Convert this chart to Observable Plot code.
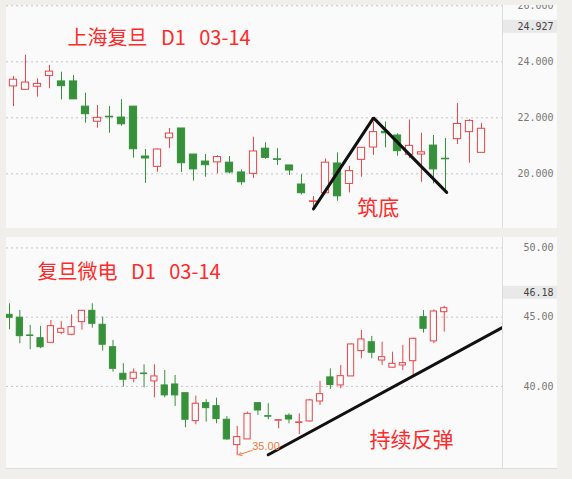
<!DOCTYPE html>
<html><head><meta charset="utf-8">
<script src="https://cdn.jsdelivr.net/npm/d3@7"></script>
<script src="https://cdn.jsdelivr.net/npm/@observablehq/plot@0.6"></script>
<style>
html,body{margin:0;padding:0;background:#f1efeb;width:572px;height:479px;overflow:hidden;}
#top,#bot{position:absolute;left:6px;}
#top{top:5px;} #bot{top:237px;border-bottom:1px solid #dddddd;}
</style></head><body>
<div id="top"></div><div id="bot"></div>
<script>
// ---- 上海复旦 (top panel) ----
const topOpen  = [23.12,23.00,23.11,23.49,23.30,23.30,22.40,21.86,22.04,22.01,22.40,20.62,20.25,21.27,21.62,20.69,20.44,20.41,20.40,20.05,20.00,20.90,20.52,20.30,19.62,19.00,19.31,20.37,19.64,20.50,20.94,21.50,21.37,20.68,20.69,21.01,20.54,21.24,21.49,20.75];
const topHigh  = [23.47,24.23,23.39,23.87,23.63,23.51,22.88,22.44,22.40,22.65,22.40,20.87,20.89,21.62,21.62,20.69,20.69,20.65,20.62,20.14,21.31,21.11,20.90,20.30,19.97,19.19,20.53,20.75,20.27,20.93,21.85,21.85,21.43,21.92,21.45,21.37,21.26,22.51,21.93,21.80];
const topLow   = [22.40,23.00,22.74,23.04,22.64,22.66,21.81,21.63,21.45,21.70,20.56,19.66,20.06,20.91,20.05,19.74,19.88,20.00,20.00,19.59,19.84,20.52,20.30,19.94,19.25,18.81,19.31,19.02,19.32,19.88,20.66,20.93,20.63,20.54,19.70,19.64,19.33,21.05,20.38,20.75];
const topClose = [23.36,23.26,23.21,23.65,23.13,22.66,22.13,22.00,22.02,21.77,20.88,20.55,20.87,21.44,20.38,20.16,20.31,20.60,20.05,19.70,20.80,20.57,20.50,20.12,19.31,19.02,20.40,19.20,20.10,20.93,21.49,21.45,20.81,21.00,20.77,20.16,20.52,21.78,21.89,21.61];
const topTicks = [20, 22, 24, 26];
const topTag = [24.927];
const topPatternX = [25, 30, 36.1];
const topPatternY = [18.75, 22.0, 19.34];
const topNote = [{x: 30.4, y: 18.76, text: "筑底"}];
const topTitle = "上海复旦   D1   03-14";

// ---- 复旦微电 (bottom panel) ----
const botOpen  = [45.17,44.96,43.68,43.48,43.15,43.87,43.73,44.64,45.46,44.45,42.83,40.91,40.55,40.93,40.36,40.07,40.14,39.51,37.49,38.79,38.57,37.59,35.76,36.17,38.79,37.85,37.52,37.88,37.36,37.47,38.91,40.65,40.07,40.72,42.55,43.19,41.87,41.35,41.51,41.82,45.00,43.25,45.36];
const botHigh  = [45.97,45.48,44.40,44.33,44.76,44.69,45.17,45.48,45.97,45.00,43.32,41.64,41.27,41.56,41.56,41.15,40.79,39.51,39.30,39.04,39.15,37.83,37.11,38.14,38.82,38.75,37.59,38.02,38.02,39.06,40.36,41.27,41.51,43.08,44.04,43.61,43.19,42.47,42.96,43.48,45.48,45.53,45.79];
const botLow   = [44.09,43.08,42.65,42.72,43.08,43.73,43.66,44.06,44.21,42.55,41.03,39.95,40.26,39.90,39.18,39.18,38.55,37.01,37.23,37.42,37.30,36.10,35.00,36.17,37.90,37.59,36.94,37.30,36.51,37.42,38.62,39.77,39.83,40.72,41.99,41.99,41.51,41.35,41.15,40.79,43.85,43.08,43.92];
const botClose = [44.96,43.63,43.64,42.83,44.35,44.16,44.28,45.46,44.52,43.01,41.27,40.48,40.99,40.89,40.72,39.35,39.35,37.59,38.75,38.43,37.64,36.17,36.34,38.02,38.26,37.81,37.56,37.61,37.40,38.99,39.44,40.10,40.74,43.03,43.39,42.43,42.11,41.63,41.68,43.44,44.16,45.41,45.65];
const botTicks = [40, 45, 50];
const botTag = [46.18];
const botTrendX = [25, 47.7];
const botTrendY = [35.06, 44.28];
const botNote = [{x: 38.84, y: 36.10, text: "持续反弹"}];
const botLowMark = [{x1: 23.45, y1: 35.38, x2: 22.15, y2: 35.06, text: "35.00"}];
const botTitle = "复旦微电   D1   03-14";

const RED = "#e8454a", GREEN = "#37913b", BG = "#fafafa", TXT = "#ff2a2a";
const CJK = "Noto Sans CJK SC";

function candles(o, h, l, c) {
  return o.map((v, i) => ({i, open: v, high: h[i], low: l[i], close: c[i], up: c[i] >= v}));
}

function panel(cfg) {
  const data = candles(...cfg.ohlc);
  const hw = cfg.halfW;
  const svg = Plot.plot({
    width: 551, height: cfg.height,
    marginLeft: 0, marginRight: 55, marginTop: 0, marginBottom: 0,
    x: {domain: cfg.xDomain, axis: null},
    y: {domain: cfg.yDomain, axis: null},
    color: {type: "identity"},
    style: {background: BG, overflow: "hidden", fontFamily: "DejaVu Sans Mono", fontSize: "10px", color: "#777"},
    marks: [
      Plot.frame({anchor: "right", stroke: "#dcdcdc"}),
      Plot.gridY(cfg.ticks, {stroke: "#c4c4c4", strokeOpacity: 1, strokeDasharray: "2,3"}),
      Plot.axisY(cfg.ticks, {anchor: "right", tickSize: 0, tickPadding: 51, textAnchor: "end", tickFormat: cfg.fmt, fill: "#777", fontSize: 10}),
      Plot.ruleX(data, {x: "i", y1: "low", y2: "high", stroke: d => d.up ? RED : GREEN, strokeWidth: 1}),
      Plot.rect(data, {x1: d => d.i - hw, x2: d => d.i + hw, y1: "open", y2: "close",
        fill: d => d.up ? BG : GREEN, stroke: d => d.up ? RED : GREEN, strokeWidth: 1}),
      Plot.text([cfg.title], {frameAnchor: "top-left", dx: cfg.titleDx, dy: cfg.titleDy, text: d => d,
        fill: TXT, fontSize: 20, fontFamily: CJK, textAnchor: "start"}),
      Plot.text(cfg.tag, {y: d => d, frameAnchor: "right", dx: 51, dy: cfg.tagDy, textAnchor: "end",
        text: d => cfg.tagFmt(d), fill: "#444", fontSize: 10}),
      ...cfg.extra
    ]
  });
  document.getElementById(cfg.id).appendChild(svg);
  // grey box behind the price tag, placed through the y scale
  const ys = svg.scale("y");
  const yc = ys.apply(cfg.tag[0]) + cfg.tagDy;
  const r = document.createElementNS("http://www.w3.org/2000/svg", "rect");
  r.setAttribute("x", 497); r.setAttribute("width", 54);
  r.setAttribute("y", yc - 6.5); r.setAttribute("height", 13);
  r.setAttribute("fill", "#e9e9e9");
  let tagText = null;
  for (const t of svg.querySelectorAll("text")) if (t.textContent === cfg.tagFmt(cfg.tag[0])) tagText = t;
  if (tagText) { const g = tagText.closest("g") || tagText; g.parentNode.insertBefore(r, g); }
  else svg.appendChild(r);
}

panel({
  id: "top", height: 223,
  ohlc: [topOpen, topHigh, topLow, topClose],
  xDomain: [-0.583, 40.75], yDomain: [18.05, 26.01],
  ticks: topTicks, fmt: d => d.toFixed(3), halfW: 0.3,
  title: topTitle, titleDx: 61, titleDy: 25,
  tag: topTag, tagDy: -9, tagFmt: d => d.toFixed(3),
  extra: [
    Plot.line(topPatternX.map((x, k) => ({x, y: topPatternY[k]})), {x: "x", y: "y", stroke: "#111", strokeWidth: 3, strokeLinejoin: "miter"}),
    Plot.text(topNote, {x: "x", y: "y", text: "text", fill: TXT, fontSize: 21, fontFamily: CJK})
  ]
});

panel({
  id: "bot", height: 231,
  ohlc: [botOpen, botHigh, botLow, botClose],
  xDomain: [-0.29, 47.63], yDomain: [34.07, 50.755],
  ticks: botTicks, fmt: d => d.toFixed(2), halfW: 0.3,
  title: botTitle, titleDx: 31, titleDy: 27,
  tag: botTag, tagDy: -8, tagFmt: d => d.toFixed(2),
  extra: [
    Plot.line(botTrendX.map((x, k) => ({x, y: botTrendY[k]})), {x: "x", y: "y", stroke: "#111", strokeWidth: 3, clip: true}),
    Plot.arrow(botLowMark, {x1: "x1", y1: "y1", x2: "x2", y2: "y2", stroke: "#f07a3a", strokeWidth: 1, headLength: 5, bend: 0}),
    Plot.text(botLowMark, {x: "x1", y: "y1", text: "text", dy: -4, textAnchor: "start", fill: "#f07a3a", fontSize: 11, fontFamily: "Liberation Sans"}),
    Plot.text(botNote, {x: "x", y: "y", text: "text", fill: TXT, fontSize: 21, fontFamily: CJK})
  ]
});
</script></body></html>
